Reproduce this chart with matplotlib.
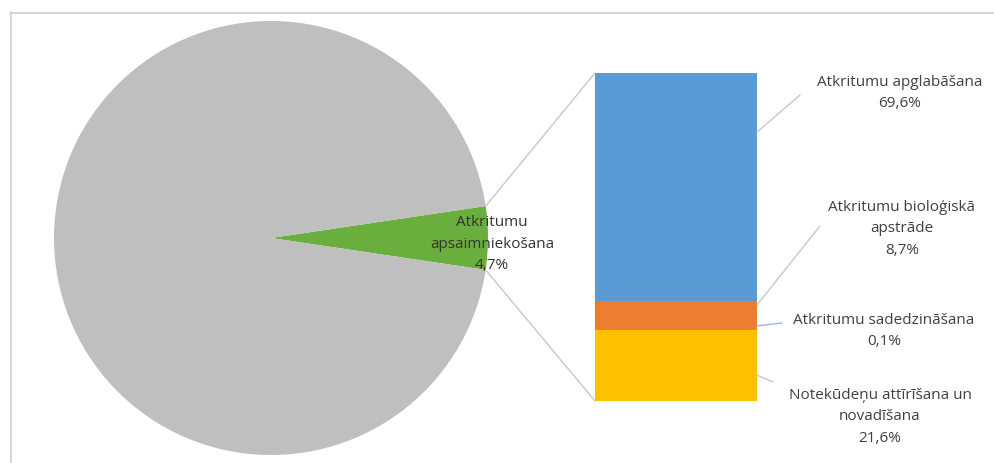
import matplotlib

matplotlib.use("Agg")
import matplotlib.pyplot as plt
import numpy as np
from matplotlib.lines import Line2D
from matplotlib.patches import ConnectionPatch

# pie: share of waste management in the total
pie_labels = ["Atkritumu\napsaimniekošana", "Pārējais"]
pie_values = [4.7, 95.3]
pie_colors = ["#6AAF3D", "#BFBFBF"]

# bar: breakdown of waste management (bottom -> top)
bar_labels = [
    "Notekūdeņu attīrīšana un\nnovadīšana",
    "Atkritumu sadedzināšana",
    "Atkritumu bioloģiskā\napstrāde",
    "Atkritumu apglabāšana",
]
bar_values = [21.6, 0.1, 8.7, 69.6]
bar_colors = ["#FFC000", "#A5A5A5", "#ED7D31", "#5B9BD5"]

W, H = 995, 463
TXT = "#404040"
FONT = ["Open Sans", "DejaVu Sans"]
FS = 11
LSP = 1.6

fig = plt.figure(figsize=(W / 100, H / 100), dpi=100)

# pie
cx, cy, r = 271, 238, 217
ax_pie = fig.add_axes([(cx - r) / W, (H - cy - r) / H, 2 * r / W, 2 * r / H])
start = -pie_values[0] / 100 * 360 / 2
ax_pie.pie(pie_values, colors=pie_colors, startangle=start, counterclock=True,
           radius=1, wedgeprops=dict(linewidth=0))
ax_pie.set_xlim(-1, 1)
ax_pie.set_ylim(-1, 1)
ax_pie.set_aspect("equal")
ax_pie.axis("off")

# bar
bx0, bx1, by0, by1 = 595, 757, 73, 401
ax_bar = fig.add_axes([bx0 / W, (H - by1) / H, (bx1 - bx0) / W, (by1 - by0) / H])
bottom = 0
for v, c in zip(bar_values, bar_colors):
    ax_bar.bar(0, v, bottom=bottom, width=1.0, color=c, linewidth=0)
    bottom += v
ax_bar.set_xlim(-0.5, 0.5)
ax_bar.set_ylim(0, sum(bar_values))
ax_bar.axis("off")

# overlay in pixel-like coordinates for frame and labels (on top)
ov = fig.add_axes([0, 0, 1, 1])
ov.set_zorder(10)
ov.set_xlim(0, W)
ov.set_ylim(H, 0)
ov.axis("off")
ov.add_line(Line2D([10, W], [12.5, 12.5], color="#D0D0D0", lw=1.2))
ov.add_line(Line2D([10.5, 10.5], [12, H], color="#D0D0D0", lw=1.2))

# connector lines pie -> bar
half = np.deg2rad(pie_values[0] / 100 * 360 / 2)
for sgn, ytop in [(1, sum(bar_values)), (-1, 0)]:
    con = ConnectionPatch(xyA=(np.cos(half), sgn * np.sin(half)), coordsA=ax_pie.transData,
                          xyB=(-0.5, ytop), coordsB=ax_bar.transData,
                          color="#C8C8C8", lw=1.0)
    fig.add_artist(con)

# pie label
ov.text(492, 244, "Atkritumu\napsaimniekošana\n4,7%", ha="center", va="center",
        fontsize=FS, color="#333333", family=FONT, linespacing=LSP)

# bar labels: (anchor on bar in data units, line end, text pos)
lab_anchor = [7.9, 22.9, 29.3, 82.0]
lab_line_end = [(773, 382), (782, 323), (820, 226), (800, 95)]
lab_text_pos = [(880, 417), (884, 331), (902, 229), (900, 93)]
lab_line_col = ["#C8C8C8", "#9DB8E0", "#C8C8C8", "#C8C8C8"]
for lab, v, a, le, tp, lc in zip(bar_labels, bar_values, lab_anchor, lab_line_end,
                                 lab_text_pos, lab_line_col):
    con = ConnectionPatch(xyA=(0.5, a), coordsA=ax_bar.transData,
                          xyB=le, coordsB=ov.transData, color=lc, lw=1.0)
    fig.add_artist(con)
    txt = f"{lab}\n{v:.1f}%".replace(".", ",")
    ov.text(tp[0], tp[1], txt, ha="center", va="center", fontsize=FS,
            color=TXT, family=FONT, linespacing=LSP)

fig.savefig("out.png", dpi=100, facecolor="white")
